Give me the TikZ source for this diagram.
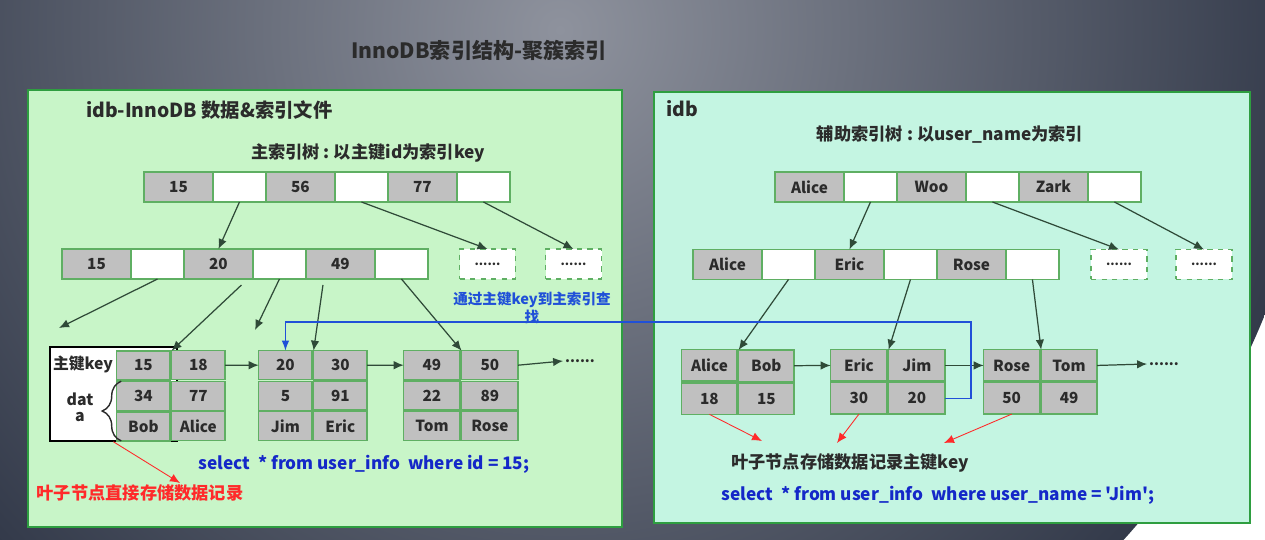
\documentclass[tikz,border=0pt]{standalone}
\usepackage{fontspec}
\setmainfont{Noto Sans CJK SC}
\newfontfamily\sqlfont{Noto Sans CJK SC}
\usepackage{tikz}
\usetikzlibrary{arrows.meta}
\usetikzlibrary{chains,decorations.pathreplacing}
\usetikzlibrary{positioning}
\usetikzlibrary{matrix}
\definecolor{bgtop}{HTML}{8E929D}
\definecolor{bgedge}{HTML}{333A4A}
\definecolor{panelA}{HTML}{C8F5C8}
\definecolor{panelB}{HTML}{C4F5E2}
\definecolor{frameG}{HTML}{2E9E40}
\definecolor{cellG}{HTML}{5FAF63}
\definecolor{keyG}{HTML}{C0C0C0}
\definecolor{ink}{HTML}{2B2B2B}
\definecolor{linkG}{HTML}{2F4A38}
\definecolor{sqlB}{HTML}{1428C8}
\definecolor{noteR}{HTML}{FF2A2A}
\definecolor{backB}{HTML}{2050D8}

\begin{document}
\begin{tikzpicture}[
        x=0.02cm, y=-0.02cm,
        node distance=0pt,
        panel/.style = {draw=frameG, line width=1.2pt},
        cell/.style = {rectangle, draw=cellG, line width=0.8pt,% fields of the tree pages
            minimum height=0.6cm, outer sep=0pt, inner sep=0pt,
            font=\fontsize{8.7}{10}\selectfont\bfseries, text=ink},
        K/.style = {cell, fill=keyG, minimum width=1.38cm, on chain},
        P/.style = {cell, fill=white, minimum width=1.06cm, on chain},
        more/.style = {cell, fill=white, dashed, minimum width=1.12cm,
            font=\fontsize{7}{8}\selectfont\bfseries},
        leaf/.style 2 args = {matrix of nodes, anchor=north west,
            inner sep=0pt, outer sep=0pt, column sep=0pt, row sep=0pt,
            nodes={cell, fill=keyG, minimum width=#1, minimum height=#2}},
        link/.style = {draw=linkG, line width=0.7pt, -{Latex[length=2mm,width=1.7mm]}},
        hint/.style = {draw=noteR, line width=0.5pt, -{Latex[length=2mm,width=1.7mm]}},
        back/.style = {draw=backB, line width=0.8pt, -{Latex[length=2mm,width=1.5mm]}},
        lbl/.style = {font=\fontsize{#1}{#1}\selectfont\bfseries, text=ink, inner sep=1pt},
        sql/.style = {font=\sqlfont\fontsize{9.8}{11}\selectfont\bfseries, text=sqlB, inner sep=1pt},
        B/.style = {decorate, decoration={brace, amplitude=0.38cm}, draw=ink, line width=0.8pt},
    ]
    \useasboundingbox (0,0) rectangle (1265,540);
    \begin{scope}
        \clip (0,0) rectangle (1265,540);
        \shade[inner color=bgtop, outer color=bgedge] (560,30) circle (760);
    \end{scope}
    \node (title) [lbl=12] at (479,50) {InnoDB索引结构-聚簇索引};
    % clustered index
    \draw[panel, fill=panelA] (28,90) rectangle (622,527);
    \node (headA) [lbl=11, anchor=west] at (84,110) {idb-InnoDB 数据\&索引文件};
    \node (capA) [lbl=9.8] at (368,153) {主索引树\ :\ 以主键id为索引key};
    \begin{scope}[shift={(178.5,187)}, start chain=PT going right]
        \foreach \k/\s in {15/K,{}/P,56/K,{}/P,77/K,{}/P}
            \node[\s] {\k};
    \end{scope}
    \begin{scope}[shift={(96.5,264)}, start chain=PS going right]
        \foreach \k/\s in {15/K,{}/P,20/K,{}/P,49/K,{}/P}
            \node[\s] {\k};
    \end{scope}
    \node (PM1) [more] at (487.5,264) {......};
    \node (PM2) [more] at (573.5,264) {......};
    \node (keyframe) [draw=black, fill=white, line width=1pt, anchor=north west,
        minimum width=2.54cm, minimum height=1.88cm] at (49,346) {};
    \node (keylbl) [lbl=9] at (83,364) {主键key};
    \node (datalbl) [lbl=9, align=center] at (80,407) {dat\\a};
    \matrix (L1) [leaf={1.07cm}{0.58cm}] at (116,350) {15 & 18\\ 34 & 77\\ Bob & Alice\\};
    \matrix (L2) [leaf={1.07cm}{0.58cm}] at (258,350) {20 & 30\\ 5 & 91\\ Jim & Eric\\};
    \matrix (L3) [leaf={1.13cm}{0.58cm}] at (403,350) {49 & 50\\ 22 & 89\\ Tom & Rose\\};
    \draw[B] ([xshift=0.09cm]L1-3-1.south west) -- ([xshift=0.09cm]L1-2-1.north west);
    \node (ldots) [lbl=8] at (580,361) {......};
    \node (leafnote) [lbl=9.8, text=noteR] at (140,493) {叶子节点直接存储数据记录};
    \node (sqlA) [sql] at (364,464) {select\ \ * from user\_info\ \ where id = 15;};
    \coordinate (lostA) at (59,328);
    \coordinate (lostB) at (255,330);
    \coordinate (redtip) at (180,483);
    \draw[link] (PT-2.south) -- (PS-3.north);
    \draw[link] (PT-4.south) -- (PM1.north);
    \draw[link] (PT-6.south) -- (PM2.north);
    \draw[link] (PS-2.south) -- (lostA);
    \draw[link] ([xshift=0.46cm,yshift=-0.12cm]PS-3.south) -- (L1-1-2.north west);
    \draw[link] (PS-4.south) -- (lostB);
    \draw[link] ([xshift=-0.35cm,yshift=-0.12cm]PS-5.south) -- (L2-1-2.north west);
    \draw[link] (PS-6.south) -- (L3-1-2.north west);
    \draw[link] (L1-1-2.east) -- (L2-1-1.west);
    \draw[link] (L2-1-2.east) -- (L3-1-1.west);
    \draw[link] (L3-1-2.east) -- (ldots.west);
    \draw[hint] (keyframe.south) -- (redtip);
    % secondary index
    \draw[panel, fill=panelB] (654,92) rectangle (1250,523);
    \node (headB) [lbl=11, anchor=west] at (664,109) {idb};
    \node (capB) [lbl=9.8] at (950,134) {辅助索引树\ :\ 以user\_name为索引};
    \begin{scope}[shift={(809.5,187)}, start chain=ST going right]
        \foreach \k/\s in {Alice/K,{}/P,Woo/K,{}/P,Zark/K,{}/P}
            \node[\s] {\k};
    \end{scope}
    \begin{scope}[shift={(727.5,264.5)}, start chain=SS going right]
        \foreach \k/\s in {Alice/K,{}/P,Eric/K,{}/P,Rose/K,{}/P}
            \node[\s] {\k};
    \end{scope}
    \node (SM1) [more] at (1119,264.5) {......};
    \node (SM2) [more] at (1204,264.5) {......};
    \matrix (R1) [leaf={1.11cm}{0.63cm}] at (681,349) {Alice & Bob\\ 18 & 15\\};
    \matrix (R2) [leaf={1.13cm}{0.63cm}] at (830,349) {Eric & Jim\\ 30 & 20\\};
    \matrix (R3) [leaf={1.12cm}{0.63cm}] at (983,349) {Rose & Tom\\ 50 & 49\\};
    \node (rdots) [lbl=8] at (1164,364) {......};
    \node (keynote) [lbl=9.8] at (850,463) {叶子节点存储数据记录主键key};
    \node (sqlB) [sql] at (938,495) {select\ \ * from user\_info\ \ where user\_name = 'Jim';};
    \coordinate (tipA) at (762,441);
    \coordinate (tipB) at (837,443);
    \coordinate (tipC) at (944,443);
    \draw[link] (ST-2.south) -- (SS-3.north);
    \draw[link] (ST-4.south) -- (SM1.north);
    \draw[link] (ST-6.south) -- (SM2.north);
    \draw[link] (SS-2.south) -- (R1-1-2.north west);
    \draw[link] (SS-4.south) -- (R2-1-2.north west);
    \draw[link] (SS-6.south) -- (R3-1-2.north west);
    \draw[link] (R1-1-2.east) -- (R2-1-1.west);
    \draw[link] (R2-1-2.east) -- (R3-1-1.west);
    \draw[link] (R3-1-2.east) -- (rdots.west);
    \draw[hint] (R1-2-1.south) -- (tipA);
    \draw[hint] (R2-2-1.south) -- (tipB);
    \draw[hint] (R3-2-1.south) -- (tipC);
    % back to the clustered index
    \coordinate (turn) at (971,322);
    \draw[back] (R2-2-2.east) -| (turn) -| (L2-1-1.north);
    \node (backlbl) [lbl=8.3, text=backB, align=center] at (532,308) {通过主键key到主索引查\\找};
\end{tikzpicture}
\end{document}
